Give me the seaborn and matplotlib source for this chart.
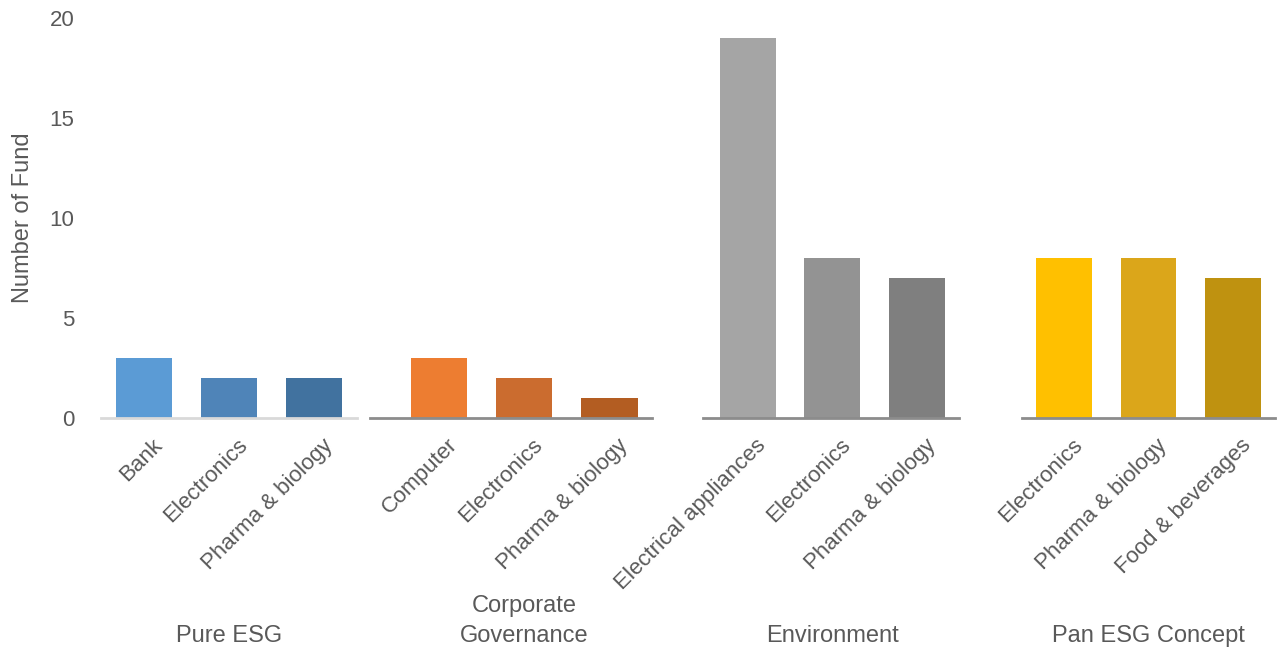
import matplotlib
matplotlib.use("Agg")
import matplotlib.pyplot as plt
import matplotlib.transforms as mtransforms
import seaborn as sns
import pandas as pd

groups = ["Pure ESG", "Corporate\nGovernance", "Environment", "Pan ESG Concept"]
industries = [
    ["Bank", "Electronics", "Pharma & biology"],
    ["Computer", "Electronics", "Pharma & biology"],
    ["Electrical appliances", "Electronics", "Pharma & biology"],
    ["Electronics", "Pharma & biology", "Food & beverages"],
]
values = [
    [3, 2, 2],
    [3, 2, 1],
    [19, 8, 7],
    [8, 8, 7],
]
colors = [
    ["#5b9bd5", "#4f84b8", "#41729f"],
    ["#ed7d31", "#cb6c2f", "#b35d22"],
    ["#a5a5a5", "#939393", "#7f7f7f"],
    ["#ffc000", "#dba61a", "#bf9210"],
]
yticks = [0, 5, 10, 15, 20]

sns.set_theme(style="white")
plt.rcParams["font.family"] = ["Liberation Sans", "DejaVu Sans"]

W, H = 1282, 653
fig = plt.figure(figsize=(W / 100, H / 100), dpi=100)

# pixel spans of each group's axis (left, right) and left x-limit
spans = [(101, 357, -0.5), (370, 652, -0.81), (703, 959, -0.53), (1022, 1275, -0.5)]
base_colors = ["#d9d9d9", "#8c8c8c", "#8c8c8c", "#8c8c8c"]
top_px, bot_px = 18, 418
text_color = "#595959"
shift = mtransforms.ScaledTranslation(8 / 100, 0, fig.dpi_scale_trans)

for i, (g, inds, vals, cols) in enumerate(zip(groups, industries, values, colors)):
    l, r, xl = spans[i]
    ax = fig.add_axes([l / W, (H - bot_px) / H, (r - l) / W, (bot_px - top_px) / H])
    df = pd.DataFrame({"industry": inds, "value": vals})
    sns.barplot(data=df, x="industry", y="value", hue="industry",
                palette=cols, width=0.66, ax=ax, legend=False,
                saturation=1, edgecolor="none")
    ax.set_xlim(xl, 2.5)
    ax.set_ylim(0, 20)
    for s in ["top", "right", "left"]:
        ax.spines[s].set_visible(False)
    ax.spines["bottom"].set_color(base_colors[i])
    ax.spines["bottom"].set_linewidth(2)
    ax.tick_params(axis="x", length=0, pad=12)
    ax.set_xticks(range(len(inds)))
    ax.set_xticklabels(inds, rotation=45, ha="right", rotation_mode="anchor",
                       fontsize=16, color=text_color)
    for lab in ax.get_xticklabels():
        lab.set_transform(lab.get_transform() + shift)
    ax.set_xlabel("")
    if i == 0:
        ax.set_yticks(yticks)
        ax.set_yticklabels([str(t) for t in yticks], fontsize=16, color=text_color)
        ax.tick_params(axis="y", length=0, pad=19)
        ax.set_ylabel("Number of Fund", fontsize=17, color=text_color)
        ax.yaxis.set_label_coords(-0.263, 0.5)
    else:
        ax.set_yticks([])
        ax.set_ylabel("")
    trans = mtransforms.blended_transform_factory(ax.transData, fig.transFigure)
    ax.text(1, (H - 636) / H if "\n" not in g else (H - 621) / H, g,
            transform=trans, ha="center", va="center", fontsize=17,
            color=text_color, linespacing=1.42)

fig.savefig("out.png", dpi=100)
